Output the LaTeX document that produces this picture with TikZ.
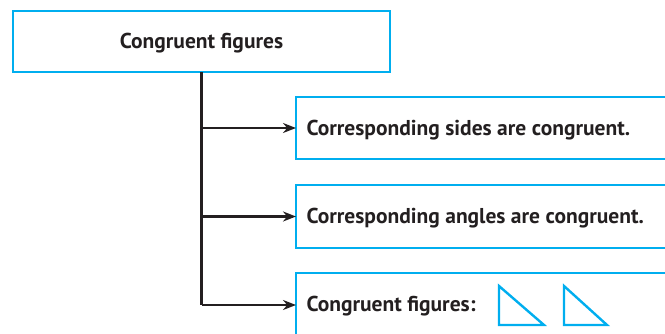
\documentclass[tikz,border=0pt]{standalone}
\usepackage{fontspec}
\setmainfont{PT Sans}
\usetikzlibrary{arrows.meta}
\definecolor{framecyan}{HTML}{00AEEF}
\definecolor{inkdark}{HTML}{231F20}
\tikzset{
  box/.style={draw=framecyan, line width=2.6pt, rectangle, inner sep=0pt, outer sep=0pt},
  label/.style={font=\bfseries\fontsize{21.5}{24}\selectfont, text=inkdark},
  link/.style={draw=inkdark, line width=2.6pt, -{Stealth[length=13pt,width=10pt]}},
  trunk/.style={draw=inkdark, line width=2.6pt},
  tri/.style={draw=framecyan, line width=2.4pt, line join=miter}
}
\begin{document}
\begin{tikzpicture}[x=1pt, y=-1pt]
  \useasboundingbox (0,0) rectangle (665,333);
  \clip (0,0) rectangle (665,333);

  % heading box
  \node[box, minimum width=377pt, minimum height=61pt] (top) at (201.5,41.5) {};
  \node[label] (toptext) at (201.5,43) {Congruent figures};

  % property boxes, running past the right edge
  \node[box, anchor=west, minimum width=420pt, minimum height=62pt] (b1) at (296,128) {};
  \node[box, anchor=west, minimum width=420pt, minimum height=63pt] (b2) at (296,216.5) {};
  \node[box, anchor=west, minimum width=420pt, minimum height=64pt] (b3) at (296,305) {};

  \node[label, anchor=west] (t1) at (303,130) {Corresponding sides are congruent.};
  \node[label, anchor=west] (t2) at (303,218) {Corresponding angles are congruent.};
  \node[label, anchor=west] (t3) at (303,306) {Congruent figures:};

  % two congruent right triangles
  \draw[tri] (499,286) -- (499,325) -- (544,325) -- cycle;
  \draw[tri] (564,286) -- (564,325) -- (607,325) -- cycle;

  % connectors from the heading to each box
  \coordinate (j1) at (top.south |- b1.west);
  \coordinate (j2) at (top.south |- b2.west);
  \coordinate (j3) at (top.south |- b3.west);
  \draw[trunk] (top.south) -- (j3);
  \draw[link] (j1) -- (b1.west);
  \draw[link] (j2) -- (b2.west);
  \draw[link] (j3) -- (b3.west);
\end{tikzpicture}
\end{document}
